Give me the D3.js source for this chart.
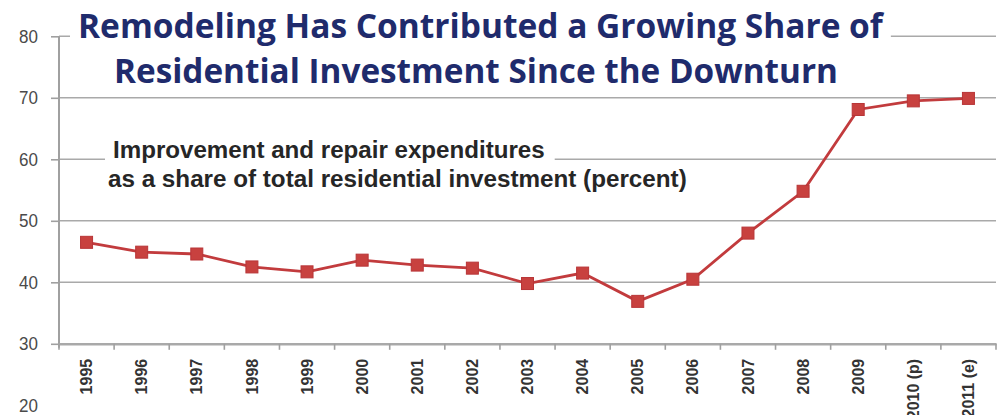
<!DOCTYPE html>
<html>
<head>
<meta charset="utf-8">
<script src="https://cdn.jsdelivr.net/npm/d3@7"></script>
<style>
  body { margin: 0; background: #fff; }
  svg { display: block; }
</style>
</head>
<body>
<div id="chart"></div>
<script>
'use strict';

// data
var years = ["1995", "1996", "1997", "1998", "1999", "2000", "2001", "2002", "2003",
             "2004", "2005", "2006", "2007", "2008", "2009", "2010 (p)", "2011 (e)"];
var shares = [46.5, 44.9, 44.6, 42.5, 41.7, 43.6, 42.8, 42.3, 39.8,
              41.5, 36.9, 40.5, 48.0, 54.8, 68.1, 69.5, 69.9];
var yTickValues = [20, 30, 40, 50, 60, 70, 80];
var gridValues = [40, 50, 60, 70, 80];
var titleLines = ["Remodeling Has Contributed a Growing Share of",
                  "Residential Investment Since the Downturn"];
var noteLines = ["Improvement and repair expenditures",
                 "as a share of total residential investment (percent)"];

var W = 1002, H = 415;

var svg = d3.select("#chart").append("svg")
  .attr("width", W)
  .attr("height", H);

var x = d3.scaleBand().domain(years).range([59, 996]).padding(0);
var y = d3.scaleLinear().domain([30, 80]).range([343.8, 36.3]);

// gridlines
svg.append("g").selectAll("line")
  .data(gridValues)
  .enter().append("line")
  .attr("x1", 59).attr("x2", 996)
  .attr("y1", function(d) { return y(d); })
  .attr("y2", function(d) { return y(d); })
  .attr("stroke", "#a9a9a9")
  .attr("stroke-width", 1.6);

// y axis
var yAxis = svg.append("g")
  .attr("transform", "translate(59,0)")
  .call(d3.axisLeft(y).tickValues(yTickValues).tickSize(8).tickPadding(13));
yAxis.select(".domain").attr("stroke", "#a0a0a0").attr("stroke-width", 2)
  .attr("d", "M0," + y(80) + "V" + (y(30) + 4));
yAxis.selectAll(".tick line").attr("stroke", "#a0a0a0").attr("stroke-width", 1.6)
  .attr("display", function(d) { return d < 30 ? "none" : null; });
yAxis.selectAll(".tick text")
  .attr("fill", "#4a4a4a")
  .style("font-family", "'Liberation Sans', Arial, sans-serif")
  .style("font-size", "17px")
  .attr("transform", "scale(1,1.05)");

// x axis
var xAxis = svg.append("g")
  .attr("transform", "translate(0," + y(30) + ")")
  .call(d3.axisBottom(x).tickSize(0).tickPadding(12));
xAxis.select(".domain").attr("stroke", "#a9a9a9").attr("stroke-width", 2.4);
xAxis.selectAll(".tick text")
  .attr("fill", "#333")
  .style("font-family", "'Liberation Sans', Arial, sans-serif")
  .style("font-size", "16px")
  .style("font-weight", "bold")
  .attr("text-anchor", "end")
  .attr("dy", "0.35em")
  .attr("transform", "rotate(-90) translate(-15,0)")
  .attr("x", 0).attr("y", 0);

// category boundary ticks
svg.append("g").selectAll("line")
  .data(d3.range(years.length + 1))
  .enter().append("line")
  .attr("x1", function(i) { return x.range()[0] + i * x.step(); })
  .attr("x2", function(i) { return x.range()[0] + i * x.step(); })
  .attr("y1", y(30)).attr("y2", y(30) + 6)
  .attr("stroke", "#a0a0a0")
  .attr("stroke-width", 1.6);

// series line
var line = d3.line()
  .x(function(d, i) { return x(years[i]) + x.bandwidth() / 2; })
  .y(function(d) { return y(d); });

svg.append("path")
  .datum(shares)
  .attr("d", line)
  .attr("fill", "none")
  .attr("stroke", "#c23b3d")
  .attr("stroke-width", 2.8);

svg.append("g").selectAll("rect")
  .data(shares)
  .enter().append("rect")
  .attr("x", function(d, i) { return x(years[i]) + x.bandwidth() / 2 - 6; })
  .attr("y", function(d) { return y(d) - 6; })
  .attr("width", 12).attr("height", 12)
  .attr("fill", "#c8413f")
  .attr("stroke", "#b83537")
  .attr("stroke-width", 1);

// fit a text element to a target width
function fit(sel, target) {
  var fs = parseFloat(sel.style("font-size"));
  var w = sel.node().getComputedTextLength();
  sel.style("font-size", (fs * target / w) + "px");
}

// note text with white box over gridline
var noteBox = svg.append("rect").attr("fill", "#fff");
var note = svg.append("g")
  .style("font-family", "'Liberation Sans', Arial, sans-serif")
  .style("font-weight", "bold")
  .attr("fill", "#262626");
var n1 = note.append("text").attr("x", 113).attr("y", 158).style("font-size", "20px").text(noteLines[0]);
var n2 = note.append("text").attr("x", 108).attr("y", 187).style("font-size", "20px").text(noteLines[1]);
fit(n1, 432);
fit(n2, 579);
var nb = n1.node().getBBox();
noteBox.attr("x", nb.x - 8).attr("y", nb.y - 2).attr("width", nb.width + 18).attr("height", nb.height + 4);

// title with white box over the top gridline
var titleBox = svg.append("rect").attr("fill", "#fff");
var title = svg.append("g")
  .style("font-family", "'Open Sans', 'Noto Sans', sans-serif")
  .style("font-weight", "bold")
  .attr("fill", "#1f2b6c");
var t1 = title.append("text").attr("x", 78).attr("y", 38).style("font-size", "30px").text(titleLines[0]);
var t2 = title.append("text").attr("x", 114).attr("y", 83).style("font-size", "30px").text(titleLines[1]);
fit(t1, 805);
fit(t2, 724);
var tb = t1.node().getBBox();
titleBox.attr("x", tb.x - 8).attr("y", tb.y).attr("width", tb.width + 14).attr("height", tb.height);
</script>
</body>
</html>
